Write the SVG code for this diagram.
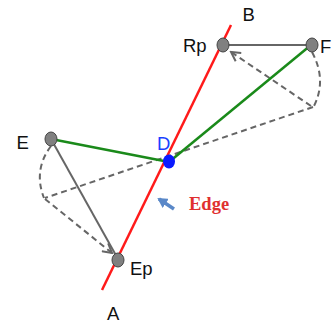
<svg xmlns="http://www.w3.org/2000/svg" width="332" height="324" viewBox="0 0 332 324">
<style>
.lbl{font-family:"Liberation Sans",Arial,sans-serif;font-size:18.5px;fill:#111}
.dash{fill:none;stroke:#666;stroke-width:2;stroke-dasharray:6,4}
.gray{fill:none;stroke:#666;stroke-width:2}
.green{fill:none;stroke:#1a8a1a;stroke-width:2.5}
.red{fill:none;stroke:#ff1a1a;stroke-width:2.5}
.node{fill:#808080;stroke:#444;stroke-width:1}
</style>
<defs>
<marker id="open" markerWidth="12" markerHeight="12" refX="10" refY="6" orient="auto" markerUnits="userSpaceOnUse">
<path d="M1,1 L10,6 L1,11" fill="none" stroke="#666" stroke-width="2"/>
</marker>
<marker id="blue" markerWidth="11" markerHeight="11" refX="8" refY="5.5" orient="auto" markerUnits="userSpaceOnUse">
<path d="M0,0 L10,5.5 L0,11 Z" fill="#5a88c8"/>
</marker>
</defs>
<g id="connectors">
<path class="dash" d="M313,107 L45,198"/>
<path class="dash" d="M312,52 Q327,80 314,106"/>
<path class="dash" d="M51,146 Q33,170 44,198"/>
<path class="dash" d="M311,106 L231,52" marker-end="url(#open)"/>
<path class="dash" d="M45,199 L112,253" marker-end="url(#open)"/>
<path class="gray" d="M224,45 L311,45"/>
<path class="gray" d="M51,139 L118,259"/>
<path class="green" d="M51,139 L169,162"/>
<path class="green" d="M169,162 L311,45"/>
<path class="red" d="M231,25 L102,290"/>
<path d="M174,209 L159,199" stroke="#5a88c8" stroke-width="3.5" fill="none" marker-end="url(#blue)"/>
</g>
<g id="node-Rp"><ellipse class="node" cx="223" cy="45" rx="6" ry="7"/><text class="lbl" x="183" y="51.5">Rp</text></g>
<g id="node-F"><ellipse class="node" cx="312" cy="45" rx="6" ry="7"/><text class="lbl" x="320" y="53">F</text></g>
<g id="node-E"><ellipse class="node" cx="51" cy="139" rx="6" ry="7"/><text class="lbl" x="16.5" y="149">E</text></g>
<g id="node-Ep"><ellipse class="node" cx="118" cy="260" rx="6" ry="7"/><text class="lbl" x="130" y="275">Ep</text></g>
<g id="node-D"><ellipse cx="169" cy="161.5" rx="6" ry="7" fill="#0a1aff"/><text class="lbl" x="157" y="150" style="fill:#1a3fff">D</text></g>
<g id="node-B"><text class="lbl" x="242.5" y="20.5">B</text></g>
<g id="node-A"><text class="lbl" x="107" y="320">A</text></g>
<g id="label-Edge"><text x="189" y="210" style="font-family:'Liberation Serif','Times New Roman',serif;font-size:18.5px;font-weight:bold;fill:#e03030">Edge</text></g>
</svg>
